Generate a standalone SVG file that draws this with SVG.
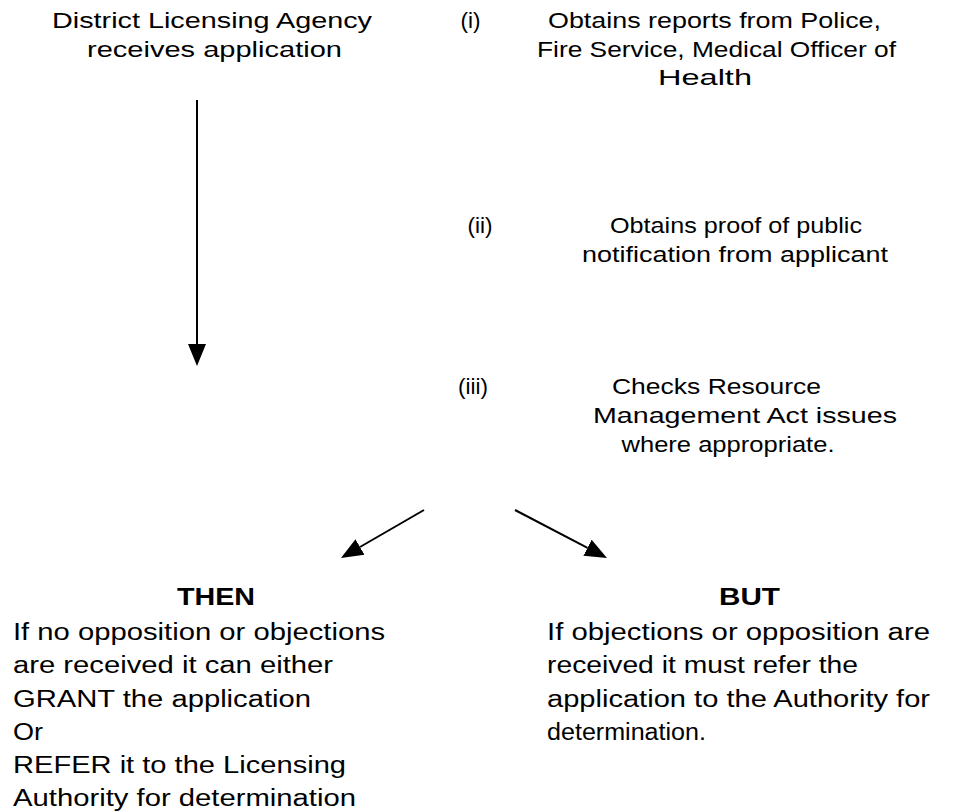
<svg xmlns="http://www.w3.org/2000/svg" width="953" height="812" viewBox="0 0 953 812">
  <style>
    text { font-family: "Liberation Sans", Arial, sans-serif; fill: #000; }
    .t { font-size: 22.5px; }
    .b { font-size: 23.5px; }
    .bold { font-weight: bold; }
    .mid { text-anchor: middle; }
    .conn { stroke: #000; stroke-width: 2; fill: none; }
  </style>
  <defs>
    <marker id="ah" markerUnits="userSpaceOnUse" markerWidth="22" markerHeight="20" refX="0" refY="10" orient="auto" viewBox="0 0 22 20">
      <path d="M0,1 L22,10 L0,19 Z" fill="#000"/>
    </marker>
  </defs>
  <rect width="953" height="812" fill="#fff"/>

  <g id="connectors">
    <line class="conn" x1="197" y1="100" x2="197" y2="344" marker-end="url(#ah)"/>
    <line class="conn" x1="424" y1="510" x2="360" y2="547" marker-end="url(#ah)"/>
    <line class="conn" x1="515" y1="510" x2="587.5" y2="547.8" marker-end="url(#ah)"/>
  </g>

  <g id="agency">
    <text class="t mid" x="212" y="28" textLength="320" lengthAdjust="spacingAndGlyphs">District Licensing Agency</text>
    <text class="t mid" x="214.5" y="57" textLength="255" lengthAdjust="spacingAndGlyphs">receives application</text>
  </g>

  <g id="step-i">
    <text class="t mid" x="470.5" y="28">(i)</text>
    <text class="t mid" x="714.5" y="28" textLength="333" lengthAdjust="spacingAndGlyphs">Obtains reports from Police,</text>
    <text class="t mid" x="716.5" y="57" textLength="359" lengthAdjust="spacingAndGlyphs">Fire Service, Medical Officer of</text>
    <text class="t mid" x="705" y="85" textLength="94" lengthAdjust="spacingAndGlyphs">Health</text>
  </g>

  <g id="step-ii">
    <text class="t mid" x="480" y="233">(ii)</text>
    <text class="t mid" x="736" y="233" textLength="252" lengthAdjust="spacingAndGlyphs">Obtains proof of public</text>
    <text class="t mid" x="735" y="262" textLength="306" lengthAdjust="spacingAndGlyphs">notification from applicant</text>
  </g>

  <g id="step-iii">
    <text class="t mid" x="473" y="394">(iii)</text>
    <text class="t mid" x="716.5" y="394" textLength="209" lengthAdjust="spacingAndGlyphs">Checks Resource</text>
    <text class="t mid" x="745" y="423" textLength="304" lengthAdjust="spacingAndGlyphs">Management Act issues</text>
    <text class="t mid" x="728" y="452" textLength="213" lengthAdjust="spacingAndGlyphs">where appropriate.</text>
  </g>

  <g id="then">
    <text class="b bold mid" x="216" y="605" textLength="78" lengthAdjust="spacingAndGlyphs">THEN</text>
    <text class="b" x="13" y="640" textLength="372" lengthAdjust="spacingAndGlyphs">If no opposition or objections</text>
    <text class="b" x="13" y="673" textLength="320" lengthAdjust="spacingAndGlyphs">are received it can either</text>
    <text class="b" x="13" y="707" textLength="298" lengthAdjust="spacingAndGlyphs">GRANT the application</text>
    <text class="b" x="13" y="740" textLength="30" lengthAdjust="spacingAndGlyphs">Or</text>
    <text class="b" x="13" y="773" textLength="333" lengthAdjust="spacingAndGlyphs">REFER it to the Licensing</text>
    <text class="b" x="13" y="806" textLength="343" lengthAdjust="spacingAndGlyphs">Authority for determination</text>
  </g>

  <g id="but">
    <text class="b bold mid" x="749.5" y="605" textLength="61" lengthAdjust="spacingAndGlyphs">BUT</text>
    <text class="b" x="547" y="640" textLength="383" lengthAdjust="spacingAndGlyphs">If objections or opposition are</text>
    <text class="b" x="547" y="673" textLength="311" lengthAdjust="spacingAndGlyphs">received it must refer the</text>
    <text class="b" x="547" y="707" textLength="383" lengthAdjust="spacingAndGlyphs">application to the Authority for</text>
    <text class="b" x="547" y="740" textLength="159" lengthAdjust="spacingAndGlyphs">determination.</text>
  </g>
</svg>
